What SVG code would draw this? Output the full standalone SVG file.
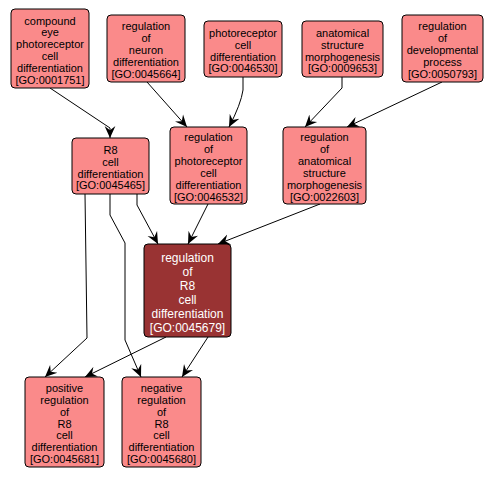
<svg xmlns="http://www.w3.org/2000/svg" width="494" height="477" viewBox="0 0 494 477">
<style>
  .node rect { fill: #fa8a8a; stroke: #000; stroke-width: 1; }
  .node text { font-family: "Liberation Sans", Arial, sans-serif; font-size: 11px; fill: #000; text-anchor: middle; }
  .main rect { fill: #993333; stroke: #000; stroke-width: 1; }
  .main text { font-family: "Liberation Sans", Arial, sans-serif; font-size: 12px; fill: #fff; text-anchor: middle; }
  .edges path { fill: none; stroke: #000; stroke-width: 1; marker-end: url(#arr); }
</style>
<defs>
  <marker id="arr" markerUnits="userSpaceOnUse" markerWidth="12" markerHeight="12" viewBox="0 0 10 10" refX="10" refY="5" orient="auto">
    <path d="M0,0.5 L10,5 L0,9.5 L3.5,5 z" fill="#000"/>
  </marker>
</defs>
<rect width="494" height="477" fill="#fff"/>
<g class="edges">
  <path d="M50,88 L110,128 L110,138"/>
  <path d="M147,82 L187,127"/>
  <path d="M243,77 L243,90 Q241,104 229,127"/>
  <path d="M342,77 L342,88 L305,127"/>
  <path d="M442,82 L347,127"/>
  <path d="M137,194 L137,205 L158,244"/>
  <path d="M208,204 L188,244"/>
  <path d="M320,204 L218,244"/>
  <path d="M85,194 L87,338 L45,377"/>
  <path d="M110,194 L110,215 L125,243 L125,340 L141,377"/>
  <path d="M166,337 L85,377"/>
  <path d="M208,337 L182,377"/>
</g>
<g id="GO0001751" class="node">
  <rect x="11" y="9" width="78" height="79" rx="4"/>
  <text x="50" y="24.5">compound</text>
  <text x="50" y="36.4">eye</text>
  <text x="50" y="48.3">photoreceptor</text>
  <text x="50" y="60.2">cell</text>
  <text x="50" y="72.1">differentiation</text>
  <text x="50" y="84">[GO:0001751]</text>
</g>
<g id="GO0045664" class="node">
  <rect x="107" y="15" width="78" height="67" rx="4"/>
  <text x="146" y="30.2">regulation</text>
  <text x="146" y="42.1">of</text>
  <text x="146" y="54">neuron</text>
  <text x="146" y="65.9">differentiation</text>
  <text x="146" y="77.8">[GO:0045664]</text>
</g>
<g id="GO0046530" class="node">
  <rect x="204" y="21" width="78" height="56" rx="4"/>
  <text x="243" y="36.7">photoreceptor</text>
  <text x="243" y="48.6">cell</text>
  <text x="243" y="60.5">differentiation</text>
  <text x="243" y="72.4">[GO:0046530]</text>
</g>
<g id="GO0009653" class="node">
  <rect x="302" y="21" width="81" height="56" rx="4"/>
  <text x="342.5" y="36.7">anatomical</text>
  <text x="342.5" y="48.6">structure</text>
  <text x="342.5" y="60.5">morphogenesis</text>
  <text x="342.5" y="72.4">[GO:0009653]</text>
</g>
<g id="GO0050793" class="node">
  <rect x="402" y="15" width="81" height="67" rx="4"/>
  <text x="442.5" y="30.2">regulation</text>
  <text x="442.5" y="42.1">of</text>
  <text x="442.5" y="54">developmental</text>
  <text x="442.5" y="65.9">process</text>
  <text x="442.5" y="77.8">[GO:0050793]</text>
</g>
<g id="GO0045465" class="node">
  <rect x="72" y="138" width="77" height="56" rx="4"/>
  <text x="110.5" y="153.7">R8</text>
  <text x="110.5" y="165.6">cell</text>
  <text x="110.5" y="177.5">differentiation</text>
  <text x="110.5" y="189.4">[GO:0045465]</text>
</g>
<g id="GO0046532" class="node">
  <rect x="170" y="127" width="77" height="77" rx="4"/>
  <text x="208.5" y="141.3">regulation</text>
  <text x="208.5" y="153.2">of</text>
  <text x="208.5" y="165.1">photoreceptor</text>
  <text x="208.5" y="177">cell</text>
  <text x="208.5" y="188.9">differentiation</text>
  <text x="208.5" y="200.8">[GO:0046532]</text>
</g>
<g id="GO0022603" class="node">
  <rect x="283" y="127" width="83" height="77" rx="4"/>
  <text x="324.5" y="141.3">regulation</text>
  <text x="324.5" y="153.2">of</text>
  <text x="324.5" y="165.1">anatomical</text>
  <text x="324.5" y="177">structure</text>
  <text x="324.5" y="188.9">morphogenesis</text>
  <text x="324.5" y="200.8">[GO:0022603]</text>
</g>
<g id="GO0045679" class="main">
  <rect x="144" y="244" width="87" height="93" rx="4"/>
  <text x="187.5" y="261.5">regulation</text>
  <text x="187.5" y="275.5">of</text>
  <text x="187.5" y="289.5">R8</text>
  <text x="187.5" y="303.5">cell</text>
  <text x="187.5" y="317.5">differentiation</text>
  <text x="187.5" y="331.5">[GO:0045679]</text>
</g>
<g id="GO0045681" class="node">
  <rect x="25" y="377" width="79" height="90" rx="4"/>
  <text x="64.5" y="391.8">positive</text>
  <text x="64.5" y="403.7">regulation</text>
  <text x="64.5" y="415.6">of</text>
  <text x="64.5" y="427.5">R8</text>
  <text x="64.5" y="439.4">cell</text>
  <text x="64.5" y="451.3">differentiation</text>
  <text x="64.5" y="463.2">[GO:0045681]</text>
</g>
<g id="GO0045680" class="node">
  <rect x="122" y="377" width="79" height="90" rx="4"/>
  <text x="161.5" y="391.8">negative</text>
  <text x="161.5" y="403.7">regulation</text>
  <text x="161.5" y="415.6">of</text>
  <text x="161.5" y="427.5">R8</text>
  <text x="161.5" y="439.4">cell</text>
  <text x="161.5" y="451.3">differentiation</text>
  <text x="161.5" y="463.2">[GO:0045680]</text>
</g>
</svg>
